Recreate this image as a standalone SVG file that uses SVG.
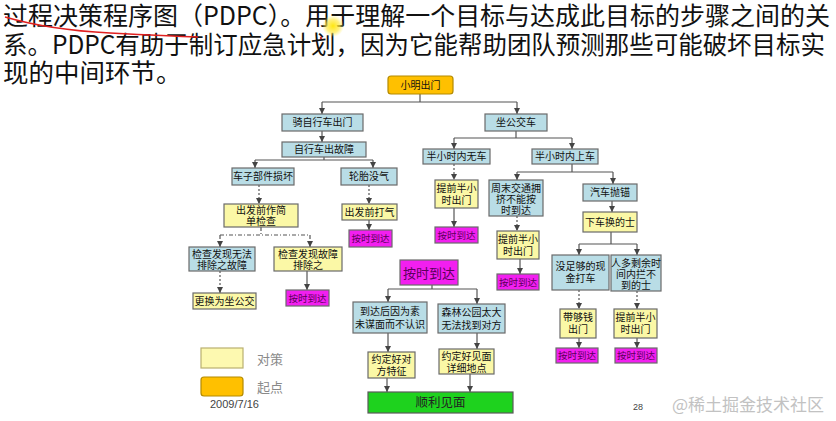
<svg xmlns="http://www.w3.org/2000/svg" width="836" height="421" viewBox="0 0 836 421">
<defs>
<style>
.hd{font-family:"Noto Sans CJK SC","Noto Sans",sans-serif;font-size:25px;fill:#111}
.t{font-family:"Noto Sans CJK SC",sans-serif;font-size:10px;fill:#111;text-anchor:middle}
.ts{font-family:"Noto Sans CJK SC",sans-serif;font-size:9.5px;fill:#5a005a;text-anchor:middle}
.b{fill:#b9dde6;stroke:#6a6a6a;stroke-width:1.2}
.y{fill:#fbf8a6;stroke:#6a6a6a;stroke-width:1.2}
.m{fill:#f21ff0;stroke:#6a6a6a;stroke-width:1.2}
.o{fill:#ffc000;stroke:#b48a00;stroke-width:1.2}
.g{fill:#1ed21e;stroke:#5a5a5a;stroke-width:1.2}
.c{fill:none;stroke:#555;stroke-width:1.2}
.a{marker-end:url(#ar)}
.d{stroke-dasharray:2 2}
.dd{stroke-dasharray:4 2 1 2}
.lg{font-family:"Noto Sans CJK SC",sans-serif;font-size:13px;fill:#8a8a8a}
</style>
<marker id="ar" viewBox="0 0 8 8" refX="8" refY="4" markerWidth="6" markerHeight="6" markerUnits="userSpaceOnUse" orient="auto">
<path d="M0,0 L8,4 L0,8 z" fill="#444"/>
</marker>
<radialGradient id="hl">
<stop offset="0" stop-color="#ffe600" stop-opacity="0.95"/>
<stop offset="0.6" stop-color="#ffe94a" stop-opacity="0.7"/>
<stop offset="1" stop-color="#fff176" stop-opacity="0"/>
</radialGradient>
</defs>
<rect width="836" height="421" fill="#fff"/>

<g id="header">
<text class="hd" x="3" y="25" textLength="827" lengthAdjust="spacingAndGlyphs">过程决策程序图（PDPC）。用于理解一个目标与达成此目标的步骤之间的关</text>
<text class="hd" x="3" y="54" textLength="822" lengthAdjust="spacingAndGlyphs">系。PDPC有助于制订应急计划，因为它能帮助团队预测那些可能破坏目标实</text>
<text class="hd" x="3" y="82" style="font-size:25.5px">现的中间环节。</text>
<path d="M5,17 Q50,30 110,33 T198,37" fill="none" stroke="#e02020" stroke-width="1.6"/>
<circle cx="333" cy="26" r="11" fill="url(#hl)"/>
<circle cx="321" cy="38" r="1.2" fill="#d03030"/>
</g>

<g id="connectors">
<path class="c" d="M420,94 V102 M322,102 H517"/>
<path class="c a" d="M322,102 V114"/>
<path class="c a" d="M517,102 V114"/>
<path class="c a" d="M322,131 V142"/>
<path class="c" d="M324,157 V160 M255,160 H373"/>
<path class="c a" d="M255,160 V168"/>
<path class="c a" d="M373,160 V168"/>
<path class="c d a" d="M259,185 V204"/>
<path class="c d a" d="M369,185 V204"/>
<path class="c a" d="M369,220 V230"/>
<path class="c dd" d="M261,227 V235 M220,235 H310"/>
<path class="c dd a" d="M220,235 V247"/>
<path class="c dd a" d="M310,235 V247"/>
<path class="c d a" d="M220,271 V293"/>
<path class="c a" d="M307,271 V290"/>
<path class="c" d="M516,131 V138 M454,138 H572"/>
<path class="c a" d="M454,138 V149"/>
<path class="c a" d="M572,138 V149"/>
<path class="c d a" d="M454,164 V180"/>
<path class="c a" d="M454,208 V227"/>
<path class="c" d="M572,164 V172 M517,172 H613"/>
<path class="c a" d="M517,172 V180"/>
<path class="c a" d="M613,172 V184"/>
<path class="c d a" d="M517,216 V231"/>
<path class="c a" d="M520,259 V274"/>
<path class="c a" d="M612,201 V212"/>
<path class="c" d="M611,232 V244 M579,244 H637"/>
<path class="c a" d="M579,244 V255"/>
<path class="c a" d="M637,244 V255"/>
<path class="c d a" d="M579,290 V309"/>
<path class="c d a" d="M637,291 V309"/>
<path class="c a" d="M579,338 V348"/>
<path class="c a" d="M637,338 V348"/>
<path class="c" d="M432,285 V289 M388,289 H477"/>
<path class="c a" d="M388,289 V302"/>
<path class="c a" d="M477,289 V304"/>
<path class="c a" d="M388,333 V352"/>
<path class="c a" d="M477,333 V349"/>
<path class="c a" d="M387,378 V392"/>
<path class="c a" d="M470,374 V392"/>
</g>

<g id="n0"><rect class="o" x="388" y="76" width="65" height="18" rx="3"/><text class="t" x="420.5" y="88.8">小明出门</text></g>
<g id="n1"><rect class="b" x="282" y="114" width="81" height="17"/><text class="t" x="322.5" y="126.3">骑自行车出门</text></g>
<g id="n2"><rect class="b" x="485" y="114" width="62" height="17"/><text class="t" x="516" y="126.3">坐公交车</text></g>
<g id="n3"><rect class="b" x="282" y="142" width="84" height="15"/><text class="t" x="324" y="153.3">自行车出故障</text></g>
<g id="n4"><rect class="b" x="232" y="168" width="62" height="17"/><text class="t" x="263" y="180.3">车子部件损坏</text></g>
<g id="n5"><rect class="b" x="341" y="168" width="56" height="17"/><text class="t" x="369" y="180.3">轮胎没气</text></g>
<g id="n6"><rect class="y" x="224" y="204" width="74" height="23"/><text class="t" x="261" y="214.3">出发前作简<tspan x="261" dy="10.5">单检查</tspan></text></g>
<g id="n7"><rect class="y" x="342" y="204" width="55" height="16"/><text class="t" x="369.5" y="215.8">出发前打气</text></g>
<g id="n8"><rect class="m" x="349" y="230" width="43" height="17"/><text class="ts" x="370.5" y="242">按时到达</text></g>
<g id="n9"><rect class="b" x="189" y="247" width="66" height="24"/><text class="t" x="222" y="257.5">检查发现无法<tspan x="222" dy="11">排除之故障</tspan></text></g>
<g id="n10"><rect class="y" x="274" y="247" width="68" height="24"/><text class="t" x="308" y="257.5">检查发现故障<tspan x="308" dy="11">排除之</tspan></text></g>
<g id="n11"><rect class="y" x="193" y="293" width="63" height="16"/><text class="t" x="224.5" y="304.8">更换为坐公交</text></g>
<g id="n12"><rect class="m" x="286" y="290" width="43" height="16"/><text class="ts" x="307.5" y="301.5">按时到达</text></g>
<g id="n13"><rect class="b" x="423" y="149" width="67" height="15"/><text class="t" x="456.5" y="160.3">半小时内无车</text></g>
<g id="n14"><rect class="b" x="532" y="149" width="66" height="15"/><text class="t" x="565" y="160.3">半小时内上车</text></g>
<g id="n15"><rect class="y" x="435" y="180" width="43" height="28"/><text class="t" x="456.5" y="192">提前半小<tspan x="456.5" dy="12">时出门</tspan></text></g>
<g id="n16"><rect class="m" x="435" y="227" width="43" height="16"/><text class="ts" x="456.5" y="238.5">按时到达</text></g>
<g id="n17"><rect class="b" x="489" y="180" width="54" height="36"/><text class="t" x="516" y="191.5">周末交通拥<tspan x="516" dy="11">挤不能按</tspan><tspan x="516" dy="11">时到达</tspan></text></g>
<g id="n18"><rect class="y" x="497" y="231" width="42" height="28"/><text class="t" x="518" y="243">提前半小<tspan x="518" dy="12">时出门</tspan></text></g>
<g id="n19"><rect class="m" x="497" y="274" width="42" height="16"/><text class="ts" x="518" y="285.5">按时到达</text></g>
<g id="n20"><rect class="b" x="583" y="184" width="54" height="17"/><text class="t" x="610" y="196.3">汽车抛锚</text></g>
<g id="n21"><rect class="y" x="583" y="212" width="54" height="20"/><text class="t" x="610" y="225.8">下车换的士</text></g>
<g id="n22"><rect class="b" x="552" y="255" width="57" height="35"/><text class="t" x="580.5" y="270">没足够的现<tspan x="580.5" dy="12">金打车</tspan></text></g>
<g id="n23"><rect class="b" x="611" y="255" width="50" height="36"/><text class="t" x="636" y="266.5">人多剩余时<tspan x="636" dy="11">间内拦不</tspan><tspan x="636" dy="11">到的士</tspan></text></g>
<g id="n24"><rect class="y" x="560" y="309" width="36" height="29"/><text class="t" x="578" y="321.3">带够钱<tspan x="578" dy="12">出门</tspan></text></g>
<g id="n25"><rect class="y" x="614" y="309" width="43" height="29"/><text class="t" x="635.5" y="321.3">提前半小<tspan x="635.5" dy="12">时出门</tspan></text></g>
<g id="n26"><rect class="m" x="556" y="348" width="42" height="15"/><text class="ts" x="577" y="359">按时到达</text></g>
<g id="n27"><rect class="m" x="615" y="348" width="42" height="15"/><text class="ts" x="636" y="359">按时到达</text></g>
<g id="n28"><rect class="m" x="400" y="260" width="58" height="25"/><text class="ts" x="429" y="277.5" style="font-size:13px">按时到达</text></g>
<g id="n29"><rect class="b" x="353" y="302" width="74" height="31"/><text class="t" x="390" y="315">到达后因为素<tspan x="390" dy="12.5">未谋面而不认识</tspan></text></g>
<g id="n30"><rect class="b" x="438" y="304" width="67" height="29"/><text class="t" x="471.5" y="316">森林公园太大<tspan x="471.5" dy="12.5">无法找到对方</tspan></text></g>
<g id="n31"><rect class="y" x="368" y="352" width="47" height="26"/><text class="t" x="391.5" y="363">约定好对<tspan x="391.5" dy="11.5">方特征</tspan></text></g>
<g id="n32"><rect class="y" x="439" y="349" width="55" height="25"/><text class="t" x="466.5" y="360">约定好见面<tspan x="466.5" dy="11.5">详细地点</tspan></text></g>
<g id="n33"><rect class="g" x="368" y="392" width="145" height="21"/><text class="t" x="440.5" y="407" style="font-size:12.5px;fill:#222">顺利见面</text></g>

<g id="legend">
<rect class="y" x="201" y="348" width="42" height="20" style="fill:#fdf9b0;stroke:#b9b070"/>
<text class="lg" x="257" y="364">对策</text>
<rect class="o" x="201" y="377" width="42" height="19" rx="3"/>
<text class="lg" x="257" y="392">起点</text>
<text x="210" y="408" style="font-family:'Liberation Sans',sans-serif;font-size:11px;fill:#444">2009/7/16</text>
<text x="633" y="410" style="font-family:'Liberation Sans',sans-serif;font-size:9px;fill:#444">28</text>
<text x="672" y="411" style="font-family:'Noto Sans CJK SC',sans-serif;font-size:17px;fill:#c2c2c2">@稀土掘金技术社区</text>
</g>
</svg>
